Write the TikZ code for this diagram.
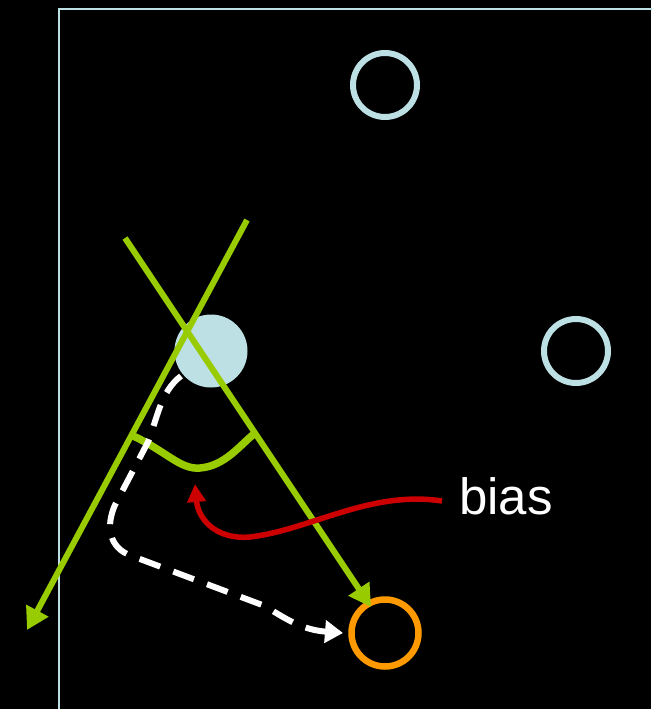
\documentclass[tikz,border=0pt]{standalone}
\usepackage{fontspec}
\setmainfont{Liberation Sans}
\usetikzlibrary{arrows.meta}
\definecolor{lblue}{HTML}{BCE0E4}
\definecolor{lgreen}{HTML}{99CC00}
\definecolor{orng}{HTML}{FF9900}
\definecolor{dred}{HTML}{CC0000}
\tikzset{
  ring/.style={circle, draw=lblue, line width=6pt, minimum size=64pt, inner sep=0pt},
  greenline/.style={draw=lgreen, line width=6pt},
  garrow/.style={greenline, -{Triangle[length=22pt,width=24pt]}},
}
\begin{document}
\begin{tikzpicture}[x=1pt,y=-1pt]
\fill[black] (0,0) rectangle (651,709);
\useasboundingbox (0,0) rectangle (651,709);
% frame
\draw[lblue, line width=2pt] (59,709) -- (59,9) -- (652,9);
% circles
\node[ring] (c1) at (385,85) {};
\node[ring] (c2) at (576,351) {};
\node[circle, fill=lblue, minimum size=73pt, inner sep=0pt] (c0) at (211,351) {};
\node[circle, draw=orng, line width=6.5pt, minimum size=67pt, inner sep=0pt] (c3) at (385,633) {};
% green lines
\coordinate (a1) at (247,220);
\coordinate (a2) at (27,630);
\coordinate (b1) at (125,238);
\coordinate (b2) at (371,607);
\draw[garrow] (a1) -- (a2);
\draw[garrow] (b1) -- (b2);
% green arc
\coordinate (g1) at (131,435);
\coordinate (g2) at (254,434);
\draw[lgreen, line width=7.5pt] (g1) .. controls (165,450) and (180,470) .. (200,468) .. controls (225,466) and (240,445) .. (g2);
% white dashed
\coordinate (w1) at (181,376);
\coordinate (w2) at (343,633);
\draw[white, line width=6pt, dash pattern=on 22pt off 14pt, -{Triangle[length=18pt,width=22pt]}]
  (w1) .. controls (160,392) and (157,420) .. (148,442) -- (115,505)
  .. controls (106,525) and (108,548) .. (132,556) -- (265,606)
  .. controls (290,622) and (305,630) .. (w2);
% red curve
\node[text=white, font=\fontsize{51}{60}\selectfont, anchor=base west, inner sep=0pt] (bias) at (459,514) {bias};
\coordinate (r1) at (442,501);
\coordinate (r2) at (195,484);
\draw[dred, line width=5.5pt, -{Triangle[length=18pt,width=18pt]}]
  (r1) .. controls (370,490) and (310,530) .. (250,537)
  .. controls (215,540) and (198,518) .. (r2);
\end{tikzpicture}
\end{document}
